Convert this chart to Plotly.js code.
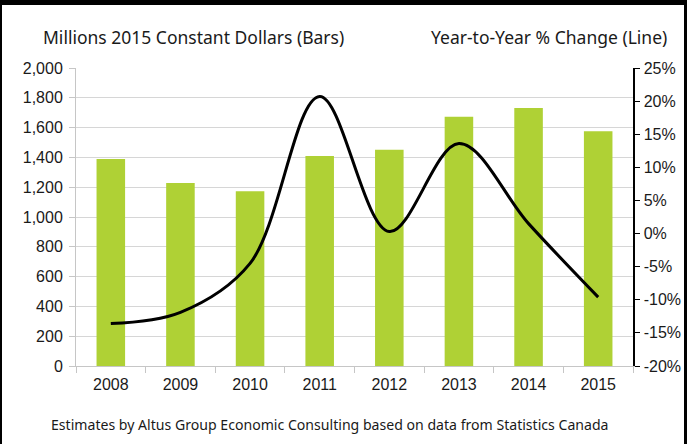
<!DOCTYPE html>
<html>
<head>
<meta charset="utf-8">
<script src="https://cdn.plot.ly/plotly-3.0.1.min.js"></script>
<style>
  html, body { margin: 0; padding: 0; background: #ffffff; }
  #wrap { position: relative; width: 687px; height: 444px; overflow: hidden; }
  #chart { width: 687px; height: 444px; }
  .bd { position: absolute; background: #000; }
</style>
</head>
<body>
<div id="wrap">
  <div id="chart"></div>
  <div class="bd" style="left:0;top:0;width:687px;height:5px;"></div>
  <div class="bd" style="left:0;top:0;width:2px;height:444px;"></div>
  <div class="bd" style="left:684px;top:0;width:3px;height:444px;"></div>
</div>
<script>
// ---- data ----
const years = ["2008", "2009", "2010", "2011", "2012", "2013", "2014", "2015"];
const spending = [1390, 1229, 1173, 1410, 1451, 1673, 1731, 1575];   // millions 2015 constant dollars (bars)
const pctChange = [-13.6, -11.9, -4.5, 20.7, 0.3, 13.6, 1.5, -9.6];  // year-to-year % change (line)
const leftTicks = [0, 200, 400, 600, 800, 1000, 1200, 1400, 1600, 1800, 2000];
const leftTickText = ["0", "200", "400", "600", "800", "1,000", "1,200", "1,400", "1,600", "1,800", "2,000"];
const rightTicks = [-20, -15, -10, -5, 0, 5, 10, 15, 20, 25];
const rightTickText = ["-20%", "-15%", "-10%", "-5%", "0%", "5%", "10%", "15%", "20%", "25%"];
const leftTitle = "Millions 2015 Constant Dollars (Bars)";
const rightTitle = "Year-to-Year % Change (Line)";
const caption = "Estimates by Altus Group Economic Consulting based on data from Statistics Canada";

// ---- layout geometry ----
const W = 687, H = 444;
const M = { l: 76, r: 54, t: 68, b: 78 };
const plotW = W - M.l - M.r;
const plotH = H - M.t - M.b;
const px = x => (x - M.l) / plotW;
const py = y => (H - M.b - y) / plotH;

const tickFont = { family: "Liberation Sans", size: 16, color: "#1a1a1a" };
const textFamily = "Noto Sans";

const bars = {
  type: "bar",
  x: years,
  y: spending,
  marker: { color: "#afd135", line: { width: 0 } },
  yaxis: "y",
  hoverinfo: "x+y"
};

const line = {
  type: "scatter",
  mode: "lines",
  x: years,
  y: pctChange,
  yaxis: "y2",
  line: { color: "#000000", width: 3, shape: "spline", smoothing: 1 },
  hoverinfo: "x+y"
};

const layout = {
  width: W,
  height: H,
  margin: M,
  paper_bgcolor: "#ffffff",
  plot_bgcolor: "#ffffff",
  showlegend: false,
  bargap: 0.59,
  font: tickFont,
  xaxis: {
    type: "category",
    tickson: "boundaries",
    ticks: "outside",
    ticklen: 6,
    tickcolor: "#c6c6c6",
    tickwidth: 1,
    showline: true,
    linecolor: "#c6c6c6",
    linewidth: 1,
    showgrid: false,
    tickfont: tickFont,
    ticklabelstandoff: 4,
    fixedrange: true
  },
  yaxis: {
    range: [0, 2000],
    tickmode: "array",
    tickvals: leftTicks,
    ticktext: leftTickText,
    ticks: "outside",
    ticklen: 6,
    tickcolor: "#c6c6c6",
    showline: true,
    linecolor: "#c6c6c6",
    linewidth: 1,
    showgrid: true,
    gridcolor: "#d6d6d6",
    gridwidth: 1,
    zeroline: false,
    tickfont: tickFont,
    ticklabelstandoff: 3,
    fixedrange: true
  },
  yaxis2: {
    overlaying: "y",
    side: "right",
    range: [-20, 25],
    tickmode: "array",
    tickvals: rightTicks,
    ticktext: rightTickText,
    ticks: "outside",
    ticklen: 5,
    tickcolor: "#000000",
    showline: true,
    linecolor: "#000000",
    linewidth: 1.5,
    showgrid: false,
    zeroline: false,
    tickfont: tickFont,
    ticklabelstandoff: 1,
    fixedrange: true
  },
  annotations: [
    { text: leftTitle, xref: "paper", yref: "paper", x: px(41), y: py(37),
      xanchor: "left", yanchor: "middle", showarrow: false,
      font: { family: textFamily, size: 17.5, color: "#1a1a1a" } },
    { text: rightTitle, xref: "paper", yref: "paper", x: px(669), y: py(37),
      xanchor: "right", yanchor: "middle", showarrow: false,
      font: { family: textFamily, size: 17.5, color: "#1a1a1a" } },
    { text: caption, xref: "paper", yref: "paper", x: px(49), y: py(425),
      xanchor: "left", yanchor: "middle", showarrow: false,
      font: { family: textFamily, size: 14.1, color: "#1a1a1a" } }
  ]
};

Plotly.newPlot("chart", [bars, line], layout, { displayModeBar: false, staticPlot: true });
</script>
</body>
</html>
